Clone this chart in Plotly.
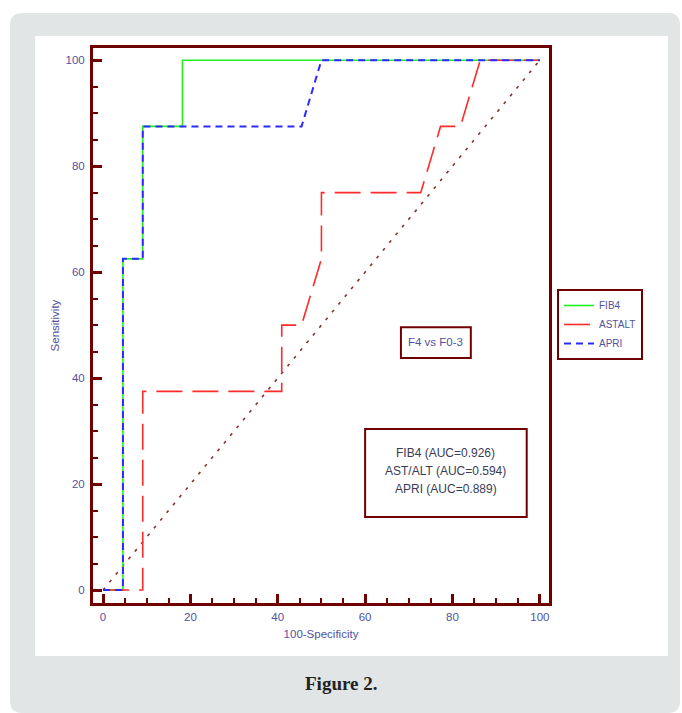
import plotly.graph_objects as go

# ---- data ----
fib4_x = [0, 4.55, 4.55, 9.09, 9.09, 18.18, 18.18, 100]
fib4_y = [0, 0, 62.5, 62.5, 87.5, 87.5, 100, 100]

astalt_x = [0, 9.09, 9.09, 40.91, 40.91, 45.45, 50, 50, 72.73, 77.27, 81.82, 86.36, 100]
astalt_y = [0, 0, 37.5, 37.5, 50, 50, 62.5, 75, 75, 87.5, 87.5, 100, 100]

apri_x = [0, 4.55, 4.55, 9.09, 9.09, 45.45, 50, 100]
apri_y = [0, 0, 62.5, 62.5, 87.5, 87.5, 100, 100]

diag_x = [0, 100]
diag_y = [0, 100]

series_names = ["FIB4", "ASTALT", "APRI"]
auc_lines = ["FIB4 (AUC=0.926)", "AST/ALT (AUC=0.594)", "APRI (AUC=0.889)"]
comparison_label = "F4 vs F0-3"
tick_vals = [0, 20, 40, 60, 80, 100]

# ---- style ----
W, H = 682, 713
L, R, T, B = 93, 549, 48, 603  # plot area in pixels
AX = "#700000"
TXT = "#5252a0"
FONT = "Liberation Sans Narrow, Liberation Sans, Arial, sans-serif"


def px(x):
    return (x - L) / (R - L)


def py(y):
    return (B - y) / (B - T)


def rounded(x0, y0, x1, y1, r):
    # pixel box -> paper path with rounded corners
    rx = r / (R - L)
    ry = r / (B - T)
    X0, X1 = px(x0), px(x1)
    Y0, Y1 = py(y1), py(y0)  # bottom, top
    return (f"M {X0+rx},{Y1} L {X1-rx},{Y1} Q {X1},{Y1} {X1},{Y1-ry} "
            f"L {X1},{Y0+ry} Q {X1},{Y0} {X1-rx},{Y0} L {X0+rx},{Y0} "
            f"Q {X0},{Y0} {X0},{Y0+ry} L {X0},{Y1-ry} Q {X0},{Y1} {X0+rx},{Y1} Z")


fig = go.Figure()
fig.add_trace(go.Scatter(x=diag_x, y=diag_y, mode="lines", showlegend=False,
                         line=dict(color="#8a3030", width=1.6, dash="3px,7px"), hoverinfo="skip"))
fig.add_trace(go.Scatter(x=fib4_x, y=fib4_y, mode="lines", name=series_names[0],
                         line=dict(color="#22ee22", width=1.6)))
fig.add_trace(go.Scatter(x=astalt_x, y=astalt_y, mode="lines", name=series_names[1],
                         line=dict(color="#ff2a2a", width=1.6, dash="26px,10px")))
fig.add_trace(go.Scatter(x=apri_x, y=apri_y, mode="lines", name=series_names[2],
                         line=dict(color="#2a2aff", width=2, dash="7px,5px")))

axis_common = dict(
    showgrid=False, zeroline=False, showline=True, linecolor=AX, linewidth=3,
    mirror=True, ticks="inside", ticklen=9, tickwidth=3, tickcolor=AX,
    tickvals=tick_vals, tickfont=dict(family=FONT, size=11.5, color=TXT),
    minor=dict(ticks="inside", dtick=5, ticklen=5, tickwidth=1.5, tickcolor=AX),
    automargin=False, fixedrange=True,
)

fig.update_xaxes(range=[-2.3, 102.1], ticklabelstandoff=1,
                 title=dict(text="100-Specificity", font=dict(family=FONT, size=11.5, color=TXT), standoff=9),
                 **axis_common)
fig.update_yaxes(range=[-2.45, 102.3], ticklabelstandoff=3,
                 title=dict(text="Sensitivity", font=dict(family=FONT, size=11.5, color=TXT), standoff=4),
                 **axis_common)

shapes = [
    dict(type="path", xref="paper", yref="paper", path=rounded(10, 13, 680, 713, 12),
         fillcolor="#e1e5e6", line=dict(width=0), layer="below"),
    dict(type="rect", xref="paper", yref="paper", x0=px(35), x1=px(668), y0=py(656), y1=py(36),
         fillcolor="white", line=dict(width=0), layer="below"),
    dict(type="rect", xref="x", yref="y", x0=60, x1=97, y0=13.8, y1=30.4,
         line=dict(color=AX, width=2), fillcolor="rgba(0,0,0,0)"),
    dict(type="rect", xref="x", yref="y", x0=68.2, x1=84.2, y0=43.8, y1=49.6,
         line=dict(color=AX, width=2), fillcolor="rgba(0,0,0,0)"),
]

annotations = [
    dict(x=76.2, y=46.8, xref="x", yref="y", text=comparison_label, showarrow=False,
         font=dict(family=FONT, size=11.5, color=TXT)),
    dict(x=px(341), y=py(683), xref="paper", yref="paper", xanchor="center", yanchor="middle",
         text="<b>Figure 2.</b>", showarrow=False,
         font=dict(family="Liberation Serif, DejaVu Serif, serif", size=19, color="#222222")),
]
for i, t in enumerate(auc_lines):
    annotations.append(dict(x=78.5, y=25.8 - 3.4 * i, xref="x", yref="y", text=t, showarrow=False,
                            font=dict(family=FONT, size=12, color="#3b3b55")))

fig.update_layout(
    width=W, height=H,
    margin=dict(l=L, r=W - R, t=T, b=H - B, pad=0),
    paper_bgcolor="white", plot_bgcolor="rgba(0,0,0,0)",
    shapes=shapes, annotations=annotations,
    legend=dict(x=px(557), y=py(289), xanchor="left", yanchor="top",
                bordercolor=AX, borderwidth=2, bgcolor="white",
                font=dict(family=FONT, size=10, color=TXT),
                itemwidth=30, tracegroupgap=0),
)

fig.write_html("out.html", config={"displayModeBar": False},
               post_script="document.body.style.margin='0';document.body.style.padding='0';")
